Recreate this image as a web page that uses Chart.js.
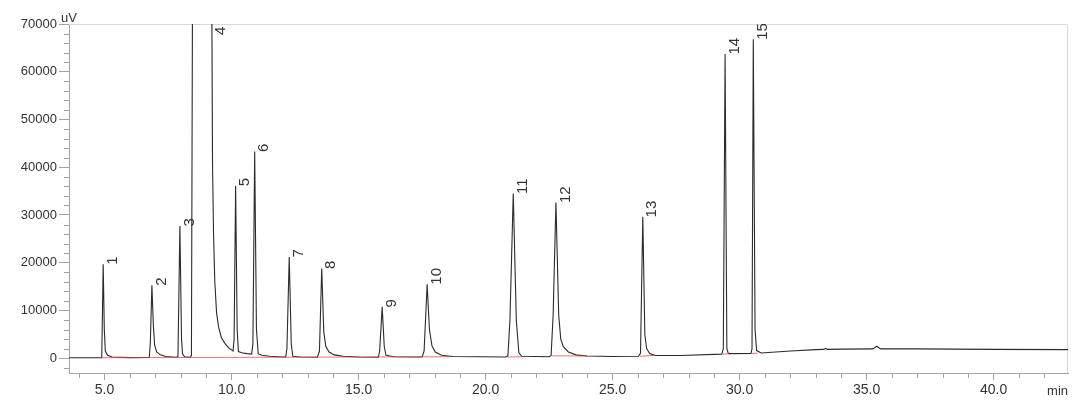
<!DOCTYPE html>
<html>
<head>
<meta charset="utf-8">
<script src="https://cdn.jsdelivr.net/npm/chart.js@4.4.1/dist/chart.umd.min.js"></script>
<style>
  html, body { margin: 0; padding: 0; background: #fff; }
  #wrap { width: 1080px; height: 405px; }
</style>
</head>
<body>
<div id="wrap"><canvas id="chromChart" width="1080" height="405"></canvas></div>
<script>
// retention time (min) and detector signal (uV)
const traceTime = [
  3.5, 4.86, 4.89, 4.946, 4.99, 5.03, 5.12, 5.3, 6.0,
  6.76, 6.80, 6.864, 6.92, 6.97, 7.05, 7.2, 7.4, 7.8,
  7.89, 7.966, 8.03, 8.07, 8.15, 8.38,
  8.42, 8.47, 8.84, 9.21, 9.25, 9.29, 9.34, 9.41, 9.49, 9.6, 9.75, 9.9, 10.06,
  10.10, 10.16, 10.22, 10.27, 10.4, 10.6, 10.79,
  10.84, 10.91, 10.98, 11.05, 11.2, 11.5, 12.0, 12.13,
  12.18, 12.27, 12.35, 12.41, 12.7, 13.38,
  13.46, 13.55, 13.63, 13.71, 13.84, 14.04, 14.4, 15.0, 15.78,
  15.83, 15.93, 16.01, 16.08, 16.4, 17.5,
  17.58, 17.70, 17.79, 17.89, 18.02, 18.27, 18.7, 20.8,
  20.88, 20.96, 21.09, 21.21, 21.31, 21.42, 22.5,
  22.58, 22.66, 22.77, 22.88, 22.96, 23.06, 23.26, 23.56, 24.0, 25.0, 26.02,
  26.10, 26.19, 26.27, 26.34, 26.46, 26.66, 27.66, 29.3,
  29.36, 29.43, 29.5, 29.56, 30.45,
  30.49, 30.54, 30.61, 30.67, 30.85, 32.0, 33.0, 33.32, 33.39, 33.46, 34.0,
  35.25, 35.40, 35.55, 37.0, 40.0, 43.1
];
const traceSignal = [
  100, 100, 400, 19700, 6000, 1500, 600, 250, 120,
  150, 3000, 15300, 7000, 2800, 1300, 700, 350, 200,
  300, 27700, 4000, 900, 300, 200,
  600, 90000, 120000, 90000, 41000, 26000, 16000, 9500, 6500, 4300, 3000, 2100, 1500,
  4000, 36100, 6000, 1400, 1150, 950, 850,
  3000, 43300, 6000, 900, 600, 400, 250, 250,
  2000, 21200, 3000, 400, 250, 200,
  1500, 18800, 5500, 2500, 1300, 700, 400, 250, 200,
  1500, 10750, 2500, 600, 300, 250,
  1500, 15500, 6000, 2600, 1300, 600, 350, 250,
  500, 8000, 34500, 8000, 1200, 400, 300,
  600, 9000, 32600, 9000, 4000, 2400, 1300, 700, 450, 350, 400,
  1000, 29600, 5000, 2000, 1000, 600, 560, 850,
  2000, 63700, 2000, 950, 1000,
  2000, 66800, 6000, 1600, 1100, 1500, 1800, 1850, 2050, 1850, 1900,
  1950, 2500, 1950, 1950, 1850, 1800
];

// integration baselines (null = break)
const baseTime = [4.87, 18.6, 18.61, 20.88, 21.42, 21.43, 22.58, 24.0, 24.01, 26.08, 26.66, 26.67, 29.34, 29.58, 29.59, 30.47, 30.72];
const baseSignal = [100, 300, null, 250, 300, null, 500, 450, null, 400, 600, null, 850, 950, null, 1000, 1050];

// peak numbers, label anchor time and apex height
const peakNumbers = ["1", "2", "3", "4", "5", "6", "7", "8", "9", "10", "11", "12", "13", "14", "15"];
const peakTimes = [4.946, 6.864, 7.966, 9.2, 10.16, 10.91, 12.27, 13.55, 15.93, 17.70, 21.09, 22.77, 26.19, 29.43, 30.54];
const peakHeights = [19700, 15300, 27700, 120000, 36100, 43300, 21200, 18800, 10750, 15500, 34500, 32600, 29600, 63700, 66800];

// axes
const xMin = 3.6, xMax = 42.93;
const yMin = -3100, yMax = 70000;
const xTickStep = 1, xLabelEvery = 5;
const yTickStep = 2000, yLabelEvery = 10000;

const FONT = '"Liberation Sans", Arial, sans-serif';
const AXIS_COLOR = "#a3a3a3";
const TEXT_COLOR = "#333333";

const tracePoints = traceTime.map((t, i) => ({ x: t, y: traceSignal[i] }));
const basePoints = baseTime.map((t, i) => ({ x: t, y: baseSignal[i] }));

function isMajor(v, every) {
  const r = Math.abs(v % every);
  return r < 1e-6 || Math.abs(r - every) < 1e-6;
}

function stepTicks(lo, hi, step) {
  const out = [];
  for (let v = Math.ceil(lo / step) * step; v <= hi + 1e-9; v += step) {
    out.push({ value: Math.round(v * 1000) / 1000 });
  }
  return out;
}

const extrasPlugin = {
  id: "extras",
  beforeDatasetsDraw(chart) {
    const { ctx, chartArea } = chart;
    ctx.save();
    ctx.strokeStyle = "#d9d9d9";
    ctx.lineWidth = 1;
    ctx.beginPath();
    ctx.moveTo(chartArea.left, chartArea.top + 0.5);
    ctx.lineTo(chartArea.right - 0.5, chartArea.top + 0.5);
    ctx.lineTo(chartArea.right - 0.5, chartArea.bottom);
    ctx.stroke();
    ctx.restore();
  },
  afterDraw(chart) {
    const { ctx, chartArea } = chart;
    const xs = chart.scales.x;
    const ys = chart.scales.y;
    ctx.save();

    // minor ticks
    ctx.strokeStyle = AXIS_COLOR;
    ctx.lineWidth = 1;
    ctx.beginPath();
    ys.ticks.forEach(tk => {
      if (!isMajor(tk.value, yLabelEvery)) {
        const py = Math.round(ys.getPixelForValue(tk.value)) + 0.5;
        ctx.moveTo(chartArea.left - 5, py);
        ctx.lineTo(chartArea.left, py);
      }
    });
    xs.ticks.forEach(tk => {
      if (!isMajor(tk.value, xLabelEvery)) {
        const px = Math.round(xs.getPixelForValue(tk.value)) + 0.5;
        ctx.moveTo(px, chartArea.bottom + 1);
        ctx.lineTo(px, chartArea.bottom + 5);
      }
    });
    ctx.stroke();

    // unit labels
    ctx.fillStyle = TEXT_COLOR;
    ctx.font = "13px " + FONT;
    ctx.textAlign = "left";
    ctx.textBaseline = "alphabetic";
    ctx.fillText("uV", chartArea.left - 8, chartArea.top - 2);
    ctx.textAlign = "right";
    ctx.fillText("min", chartArea.right, 394.5);

    // peak labels
    ctx.beginPath();
    ctx.rect(chartArea.left, chartArea.top, chartArea.right - chartArea.left, chartArea.bottom - chartArea.top);
    ctx.clip();
    ctx.font = "15px " + FONT;
    ctx.textAlign = "left";
    ctx.textBaseline = "top";
    peakNumbers.forEach((num, i) => {
      const px = xs.getPixelForValue(peakTimes[i]) + 2;
      let py = ys.getPixelForValue(peakHeights[i]) + 0.5;
      if (py < chartArea.top + 11) py = chartArea.top + 11;
      ctx.save();
      ctx.translate(px, py);
      ctx.rotate(-Math.PI / 2);
      ctx.fillText(num, 0, 0);
      ctx.restore();
    });
    ctx.restore();
  }
};

new Chart(document.getElementById("chromChart"), {
  type: "line",
  data: {
    datasets: [
      {
        label: "baseline",
        data: basePoints,
        borderColor: "rgba(225,70,70,0.75)",
        borderWidth: 1,
        pointRadius: 0,
        tension: 0,
        spanGaps: false
      },
      {
        label: "signal",
        data: tracePoints,
        borderColor: "#2b2b2b",
        borderWidth: 1.1,
        pointRadius: 0,
        tension: 0
      }
    ]
  },
  options: {
    responsive: false,
    animation: false,
    devicePixelRatio: 1,
    layout: { padding: { top: 24, right: 12, left: 0, bottom: 0 } },
    plugins: {
      legend: { display: false },
      tooltip: { enabled: false }
    },
    scales: {
      x: {
        type: "linear",
        min: xMin,
        max: xMax,
        afterFit(scale) { scale.height = 32; },
        afterBuildTicks(scale) { scale.ticks = stepTicks(xMin, xMax, xTickStep); },
        border: { display: true, color: AXIS_COLOR },
        grid: {
          drawOnChartArea: false,
          tickLength: 7,
          tickColor: ctx => (isMajor(ctx.tick.value, xLabelEvery) ? AXIS_COLOR : "rgba(0,0,0,0)")
        },
        ticks: {
          autoSkip: false,
          maxRotation: 0,
          padding: 2,
          color: TEXT_COLOR,
          font: { family: FONT, size: 14 },
          callback: v => (isMajor(v, xLabelEvery) ? Number(v).toFixed(1) : "")
        }
      },
      y: {
        type: "linear",
        min: yMin,
        max: yMax,
        afterFit(scale) { scale.width = 69; },
        afterBuildTicks(scale) { scale.ticks = stepTicks(yMin, yMax, yTickStep); },
        border: { display: true, color: AXIS_COLOR },
        grid: {
          drawOnChartArea: false,
          tickLength: 10,
          tickColor: ctx => (isMajor(ctx.tick.value, yLabelEvery) ? AXIS_COLOR : "rgba(0,0,0,0)")
        },
        ticks: {
          autoSkip: false,
          padding: 2,
          color: TEXT_COLOR,
          font: { family: FONT, size: 13 },
          callback: v => (isMajor(v, yLabelEvery) ? String(v) : "")
        }
      }
    }
  },
  plugins: [extrasPlugin]
});
</script>
</body>
</html>
